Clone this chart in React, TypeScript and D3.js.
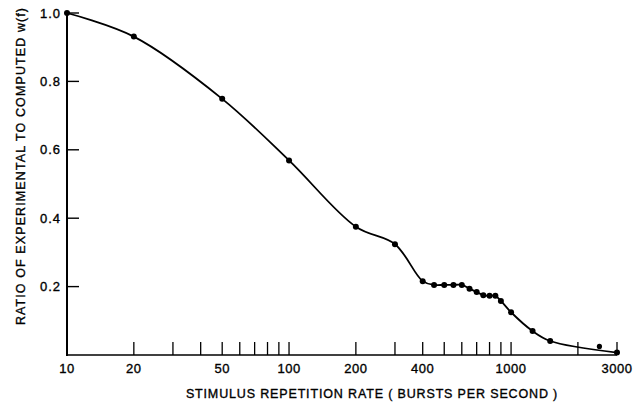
import React from "react";
import * as d3 from "d3";

// Repetition rate (bursts per second) and measured ratio w(f)
const rates = [10, 20, 50, 100, 200, 300, 400, 450, 500, 550, 600, 650, 700, 750, 800, 850, 900, 1000, 1250, 1500, 3000];
const ratios = [1.0, 0.931, 0.749, 0.569, 0.375, 0.324, 0.216, 0.205, 0.205, 0.205, 0.205, 0.194, 0.184, 0.175, 0.173, 0.173, 0.158, 0.125, 0.07, 0.041, 0.007];

// Stray observation not on the fitted curve
const strayRates = [2500];
const strayRatios = [0.025];

const xTickMarks = [20, 30, 40, 50, 60, 70, 80, 90, 100, 200, 300, 400, 500, 600, 700, 800, 900, 1000, 2000, 3000];
const xTickLabels = [10, 20, 50, 100, 200, 400, 1000, 3000];
const yTicks = [0.2, 0.4, 0.6, 0.8, 1.0];

const W = 633;
const H = 406;
const FONT = "'Liberation Sans', Arial, sans-serif";

export default function App() {
  const x = d3.scaleLog().domain([10, 3000]).range([67, 617]);
  const y = d3.scaleLinear().domain([0, 1]).range([355, 13]);

  const pts: [number, number][] = rates.map((r, i) => [r, ratios[i]]);
  const line = d3
    .line<[number, number]>()
    .x((d) => x(d[0]))
    .y((d) => y(d[1]))
    .curve(d3.curveCatmullRom.alpha(0.5));

  const x0 = x(10);
  const y0 = y(0);
  const textInk = { fill: "#000", stroke: "#000", strokeWidth: 0.35 };

  return (
    <svg
      width={W}
      height={H}
      style={{ position: "absolute", left: 0, top: 0, background: "#fff" }}
      fontFamily={FONT}
    >
      <rect width={W} height={H} fill="#fff" />
      {/* axes */}
      <line x1={x0} x2={x0} y1={y(1.0) - 2} y2={y0 + 1} stroke="#000" strokeWidth={2} />
      <line x1={x0} x2={x(3000)} y1={y0} y2={y0} stroke="#000" strokeWidth={1.6} />

      {/* y ticks and labels */}
      {yTicks.map((t) => (
        <g key={t}>
          <line x1={x0} x2={x0 + 12} y1={y(t)} y2={y(t)} stroke="#000" strokeWidth={1.4} />
          <text
            x={x0 - 6}
            y={y(t)}
            dy="0.36em"
            textAnchor="end"
            fontSize={13}
            letterSpacing={1}
            {...textInk}
          >
            {t.toFixed(1)}
          </text>
        </g>
      ))}

      {/* x ticks */}
      {xTickMarks.map((t) => (
        <line key={t} x1={x(t)} x2={x(t)} y1={y0} y2={y0 - 13} stroke="#000" strokeWidth={1.3} />
      ))}
      {xTickLabels.map((t) => (
        <text
          key={t}
          x={x(t)}
          y={368}
          dy="0.36em"
          textAnchor="middle"
          fontSize={13}
          letterSpacing={0.5}
          {...textInk}
        >
          {t}
        </text>
      ))}

      {/* axis titles */}
      <text
        x={372}
        y={393}
        dy="0.36em"
        textAnchor="middle"
        fontSize={12.5}
        letterSpacing={0.85}
        {...textInk}
      >
        STIMULUS REPETITION RATE ( BURSTS PER SECOND )
      </text>
      <text
        transform={`translate(20,166) rotate(-90)`}
        dy="0.36em"
        textAnchor="middle"
        fontSize={12.5}
        letterSpacing={1.1}
        {...textInk}
      >
        RATIO OF EXPERIMENTAL TO COMPUTED  w(f)
      </text>

      {/* fitted curve */}
      <path d={line(pts) || ""} fill="none" stroke="#000" strokeWidth={1.8} />

      {/* measured points */}
      {pts.map((d, i) => (
        <circle key={i} cx={x(d[0])} cy={y(d[1])} r={3} fill="#000" />
      ))}
      {strayRates.map((r, i) => (
        <circle key={"s" + i} cx={x(r)} cy={y(strayRatios[i])} r={2.6} fill="#000" />
      ))}
    </svg>
  );
}
